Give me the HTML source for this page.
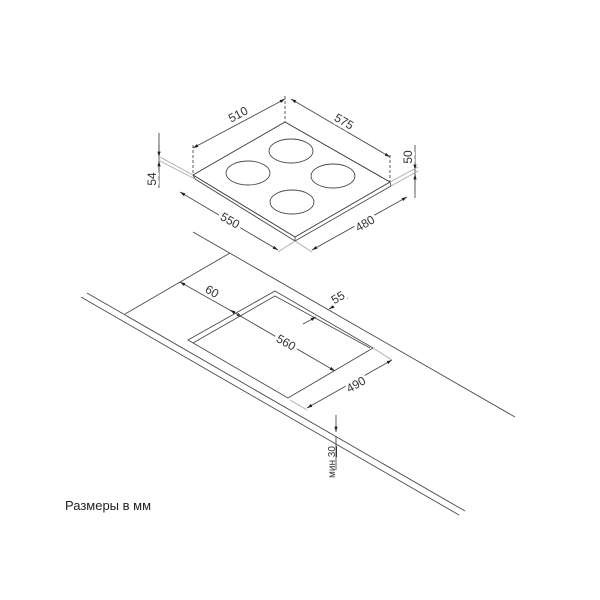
<!DOCTYPE html>
<html><head><meta charset="utf-8"><style>
html,body{margin:0;padding:0;background:#fff;width:600px;height:600px;overflow:hidden}
svg{display:block}
text{font-family:"Liberation Sans","DejaVu Sans",sans-serif;fill:#333;font-size:12px;paint-order:stroke;stroke:#fff;stroke-width:6px;stroke-linejoin:round}
</style></head><body>
<svg width="600" height="600" viewBox="0 0 600 600" xmlns="http://www.w3.org/2000/svg">
<defs>
<marker id="a" viewBox="0 0 10 10" refX="10" refY="5" markerWidth="6" markerHeight="6" orient="auto-start-reverse"><path d="M0,2 L10,5 L0,8 z" fill="#222"/></marker>
</defs>
<g stroke="#4a4a4a" stroke-width="0.9" fill="none">
<polygon points="285,122 390,182 295,237 193,175" stroke="#333"/>
<polyline points="193,175 195,179 295,241 391,186 390,182"/>
<line x1="295" y1="237" x2="295" y2="241"/>
<ellipse cx="291" cy="151" rx="22" ry="12"/>
<ellipse cx="248" cy="173" rx="22" ry="12"/>
<ellipse cx="333" cy="176" rx="22" ry="12"/>
<ellipse cx="292" cy="202" rx="22" ry="12"/>
<line x1="193" y1="148" x2="285" y2="99" marker-start="url(#a)" marker-end="url(#a)"/>
<line x1="193" y1="145" x2="193" y2="175" stroke-dasharray="3,2"/>
<line x1="285" y1="96" x2="285" y2="122" stroke-dasharray="3,2"/>
<line x1="291" y1="99" x2="390" y2="157" marker-start="url(#a)" marker-end="url(#a)"/>
<line x1="390" y1="155" x2="390" y2="182" stroke-dasharray="3,2"/>
<line x1="415" y1="145" x2="415" y2="198"/>
<line x1="415" y1="158" x2="415" y2="170" marker-end="url(#a)"/>
<line x1="415" y1="185" x2="415" y2="174" marker-end="url(#a)"/>
<line x1="390" y1="182" x2="418" y2="167" stroke="#aaa"/>
<line x1="391" y1="186" x2="418" y2="171" stroke="#aaa"/>
<line x1="159" y1="133" x2="159" y2="188"/>
<line x1="159" y1="145" x2="159" y2="157" marker-end="url(#a)"/>
<line x1="159" y1="172" x2="159" y2="161" marker-end="url(#a)"/>
<line x1="158" y1="156" x2="193" y2="175" stroke="#aaa"/>
<line x1="158" y1="160" x2="195" y2="179" stroke="#aaa"/>
<line x1="180" y1="192" x2="278" y2="250" marker-start="url(#a)" marker-end="url(#a)"/>
<line x1="312" y1="250" x2="407" y2="197" marker-start="url(#a)" marker-end="url(#a)"/>
<line x1="295" y1="241" x2="312" y2="252" stroke="#aaa"/>
<line x1="295" y1="241" x2="278" y2="252" stroke="#aaa"/>
<line x1="193" y1="232" x2="515" y2="417"/>
<line x1="87" y1="293" x2="465" y2="511"/>
<line x1="81" y1="297" x2="459" y2="515"/>
<line x1="125" y1="314" x2="230" y2="253"/>
<polygon points="275,291 373,348 288,398 188,340"/>
<polyline points="193,343 275,296 370,348"/>
<line x1="180" y1="282" x2="242" y2="317" marker-start="url(#a)" marker-end="url(#a)"/>
<line x1="348" y1="298" x2="329" y2="309" marker-end="url(#a)"/>
<line x1="303" y1="324" x2="316" y2="317" marker-end="url(#a)"/>
<line x1="230" y1="310" x2="335" y2="371" marker-start="url(#a)" marker-end="url(#a)"/>
<line x1="307" y1="408" x2="392" y2="360" marker-start="url(#a)" marker-end="url(#a)"/>
<line x1="290" y1="400" x2="307" y2="410" stroke="#aaa"/>
<line x1="373" y1="348" x2="392" y2="360" stroke="#aaa"/>
<line x1="336" y1="415" x2="336" y2="432" marker-end="url(#a)"/>
<line x1="336" y1="437" x2="336" y2="470"/>
</g>
<text transform="translate(240,118) rotate(-28)" text-anchor="middle">510</text>
<text transform="translate(342,125) rotate(30)" text-anchor="middle">575</text>
<text transform="translate(412,157) rotate(-90)" text-anchor="middle">50</text>
<text transform="translate(156,179) rotate(-90)" text-anchor="middle">54</text>
<text transform="translate(228,224) rotate(30)" text-anchor="middle">550</text>
<text transform="translate(367,227) rotate(-30)" text-anchor="middle">480</text>
<text transform="translate(210,295) rotate(30)" text-anchor="middle">60</text>
<text transform="translate(340,301) rotate(-30)" text-anchor="middle">55</text>
<text transform="translate(284,346) rotate(30)" text-anchor="middle">560</text>
<text transform="translate(358,388) rotate(-30)" text-anchor="middle">490</text>
<text transform="translate(335,462) rotate(-90)" text-anchor="middle" style="font-size:10px;stroke:none">мин <tspan text-decoration="underline">30</tspan></text>
<text x="65" y="510" style="font-size:13px;fill:#222;stroke:none">Размеры в мм</text>
</svg>
</body></html>
